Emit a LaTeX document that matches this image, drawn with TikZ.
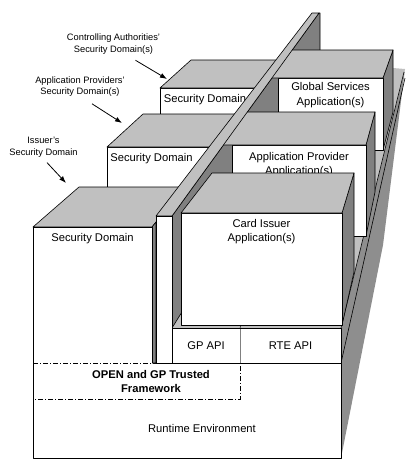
\documentclass[tikz,border=0pt]{standalone}
\usepackage{fontspec}
\setmainfont{Liberation Sans}
\usetikzlibrary{calc,arrows.meta}

\definecolor{topgray}{HTML}{C0C0C0}
\definecolor{sidegray}{HTML}{808080}
\definecolor{basegray}{HTML}{8E8E8E}

\tikzset{
  face/.style={draw=black, line width=0.6pt, line join=round},
  topface/.style={face, fill=topgray},
  sideface/.style={face, fill=sidegray},
  frontface/.style={face, fill=white},
  boxtext/.style={font=\fontsize{11.2}{14.5}\selectfont, align=center, inner sep=0pt},
  lbl/.style={font=\fontsize{9.3}{11.5}\selectfont, align=center, inner sep=1pt},
  pointer/.style={-{Latex[length=7pt,width=5pt]}, line width=0.8pt},
  frame/.style={line width=0.6pt, dash pattern=on 5pt off 2pt on 1pt off 2pt},
}

\begin{document}
\begin{tikzpicture}[x=1pt,y=-1pt]
\useasboundingbox (0,0) rectangle (415,469);

% platform going back, right side and floor
\fill[basegray] (341,328) -- (405,69) -- (383,245) -- (341,458) -- cycle;
\fill[topgray] (172,328) -- (341,328) -- (405,69) -- (320,62) -- cycle;
\draw[line width=0.6pt] (341,328) -- (404,72) (341,363) -- (405,78);

% wall, right side
\draw[sideface] (172,216) -- (319,13) -- (320,13) -- (320,90) -- (172,328) -- cycle;

% right of the wall
\begin{scope}
  \clip (164,469) -- (164,216) -- (316,13) -- (316,0) -- (415,0) -- (415,469) -- cycle;
  % global services
  \draw[sideface] (383,78) -- (393,50) -- (393,112) -- (383,150) -- cycle;
  \draw[frontface] (278,78) rectangle (383,150);
  \draw[topface] (240,78) -- (383,78) -- (393,50) -- (260,50) -- cycle;
  \node[boxtext] (gsa) at (330.5,95) {Global Services\\Application(s)};
  % application provider
  \draw[sideface] (366,145) -- (375,112) -- (375,192) -- (366,236) -- cycle;
  \draw[frontface] (232,145) rectangle (366,236);
  \draw[topface] (190,145) -- (366,145) -- (375,112) -- (215,112) -- cycle;
  \node[boxtext] (apa) at (299,164.5) {Application Provider\\Application(s)};
  % card issuer
  \draw[sideface] (342,213) -- (354,173) -- (354,272) -- (342,325) -- cycle;
  \draw[frontface] (181,213) rectangle (342,325);
  \draw[topface] (181,213) -- (342,213) -- (354,173) -- (212,173) -- cycle;
  \node[boxtext] (cia) at (261.5,231.5) {Card Issuer\\Application(s)};
\end{scope}
\draw[line width=0.4pt] (240,328) -- (241,325);

% API layer
\draw[fill=white, draw=black!50, line width=0.4pt] (172,328) rectangle (240,363);
\draw[fill=white, draw=black!50, line width=0.4pt] (240,328) rectangle (341,363);
\draw[line width=0.6pt] (172,328) -- (341,328) -- (341,363);
\node[boxtext] (gpapi) at (206,346) {GP API};
\node[boxtext] (rteapi) at (290.5,346) {RTE API};

% runtime environment and framework
\fill[white] (33,363) rectangle (341,458);
\draw[frame] (33,363) -- (240,363) -- (240,399) -- (33,399);
\draw[face] (155,363) -- (341,363) -- (341,458) -- (33,458) -- (33,363);
\node[boxtext, font=\fontsize{11.2}{14}\selectfont\bfseries] (otf) at (151,381) {OPEN and GP Trusted\\Framework};
\node[boxtext] (rte) at (202,428) {Runtime Environment};

% left of the wall
\begin{scope}
  \clip (0,0) -- (316,0) -- (316,13) -- (164,216) -- (164,469) -- (0,469) -- cycle;
  % controlling authorities
  \draw[frontface] (160,88) rectangle (300,114);
  \draw[topface] (160,88) -- (191,60) -- (300,60) -- (300,88) -- cycle;
  \node[boxtext] (casd) at (205,100) {Security Domain};
  % application providers
  \draw[frontface] (107,147) rectangle (260,187);
  \draw[topface] (107,147) -- (143,114) -- (260,114) -- (260,147) -- cycle;
  \node[boxtext] (apsd) at (151.5,159) {Security Domain};
  % issuer
  \draw[topface] (33,227) -- (79,187) -- (220,187) -- (164,216) -- (156,222) -- (152,227) -- cycle;
  \draw[sideface] (152,227) -- (156,222) -- (156,363) -- (152,363) -- cycle;
  \fill[white] (33,227) rectangle (152,363);
  \draw[face] (33,363) -- (33,227) -- (152,227) -- (152,363);
  \node[boxtext] (issd) at (92.5,239) {Security Domain};
\end{scope}

% the wall
\draw[topface] (156,216) -- (172,216) -- (319,13) -- (312,13) -- cycle;
\draw[frontface] (156,216) rectangle (172,363);

% labels
\node[lbl] (lblCA) at (113.5,44) {Controlling Authorities'\\Security Domain(s)};
\node[lbl] (lblAP) at (80,86.5) {Application Providers'\\Security Domain(s)};
\node[lbl] (lblIS) at (43.5,147.5) {Issuer's\\Security Domain};
\coordinate (tipCA) at (167,79);
\coordinate (tipAP) at (122,123);
\coordinate (tipIS) at (66,183);
\draw[pointer] ([xshift=22pt,yshift=-5pt]lblCA.south) -- (tipCA);
\draw[pointer] ([xshift=12pt,yshift=-6pt]lblAP.south) -- (tipAP);
\draw[pointer] ([xshift=3.5pt,yshift=-4pt]lblIS.south) -- (tipIS);

\end{tikzpicture}
\end{document}
